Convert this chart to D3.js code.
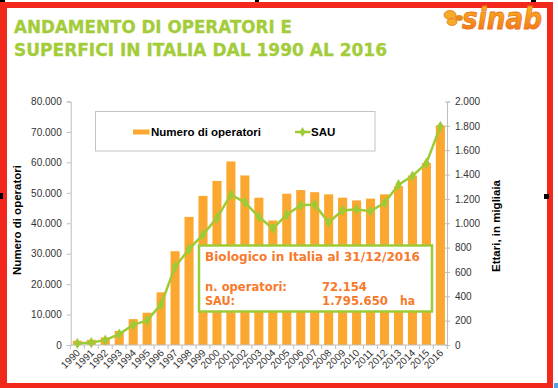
<!DOCTYPE html>
<html><head><meta charset="utf-8">
<script src="https://cdn.jsdelivr.net/npm/d3@7"></script>
<style>
html,body{margin:0;padding:0;background:#fff;}
svg{display:block;}
</style>
</head><body>
<svg id="chart" width="558" height="388"></svg>
<script>
const years = ["1990","1991","1992","1993","1994","1995","1996","1997","1998","1999","2000","2001","2002","2003","2004","2005","2006","2007","2008","2009","2010","2011","2012","2013","2014","2015","2016"];
const operatori = [1400,1700,2500,4600,8500,10600,17300,30800,42100,49000,53900,60300,55700,48400,40900,49700,50900,50200,49500,48400,47500,48100,49500,52200,55700,59800,72154];
const sau = [13,20,40,90,165,202,334,642,787,907,1044,1235,1172,1052,957,1071,1148,1153,1006,1107,1113,1098,1167,1317,1388,1494,1796];
const leftTicks = [0,10000,20000,30000,40000,50000,60000,70000,80000];
const rightTicks = [0,200,400,600,800,1000,1200,1400,1600,1800,2000];
const titleLines = ["ANDAMENTO DI OPERATORI E","SUPERFICI IN ITALIA DAL 1990 AL 2016"];
const seriesNames = ["Numero di operatori","SAU"];
const axisTitles = ["Numero di operatori","Ettari, in migliaia"];
const noteLines = ["Biologico in Italia al 31/12/2016"];
const noteRows = [["n. operatori:","72.154",""],["SAU:","1.795.650","ha"]];

const svg = d3.select("#chart");
const BAR = "#fca72f", LINE = "#9dcb35", NOTE = "#f77a2c", TITLE = "#a3cc39", RED = "#f3281c";
const it = d3.formatLocale({thousands:".",grouping:[3],decimal:",",currency:["",""]});
const fmt = it.format(",");

svg.append("rect").attr("width",558).attr("height",388).attr("fill","#fff");

const x = d3.scaleBand().domain(years).range([70.7,447]).paddingInner(0.35).paddingOuter(0.15);
const yL = d3.scaleLinear().domain([0,80000]).range([345,101.5]);
const yR = d3.scaleLinear().domain([0,2000]).range([345,101.5]);

// title
const tl = svg.append("g").attr("font-family","DejaVu Sans, Verdana, sans-serif").attr("font-weight","bold")
  .attr("font-size",17.5).attr("fill",TITLE).attr("stroke",TITLE).attr("stroke-width",0.3);
tl.append("text").attr("x",14).attr("y",33.3).attr("textLength",278).attr("lengthAdjust","spacingAndGlyphs").text(titleLines[0]);
tl.append("text").attr("x",14).attr("y",56).attr("textLength",373).attr("lengthAdjust","spacingAndGlyphs").text(titleLines[1]);

// bars
svg.append("g").selectAll("rect").data(years).join("rect")
  .attr("x",d=>x(d)).attr("width",x.bandwidth())
  .attr("y",(d,i)=>yL(operatori[i])).attr("height",(d,i)=>yL(0)-yL(operatori[i]))
  .attr("fill",BAR);

// left axis
const gL = svg.append("g").attr("transform","translate(70.7,0)")
  .call(d3.axisLeft(yL).tickValues(leftTicks).tickFormat(fmt).tickSizeOuter(0).tickSize(4).tickPadding(5));
gL.select(".domain").attr("stroke","#bdbdbd");
gL.selectAll(".tick line").attr("stroke","#bdbdbd");
gL.selectAll("text").attr("font-family","Liberation Sans, Arial, sans-serif").attr("font-size",10).attr("fill","#333");

// right axis
const gR = svg.append("g").attr("transform","translate(447,0)")
  .call(d3.axisRight(yR).tickValues(rightTicks).tickFormat(fmt).tickSizeOuter(0).tickSize(3).tickPadding(5));
gR.select(".domain").attr("stroke","#bdbdbd");
gR.selectAll(".tick line").attr("stroke","#bdbdbd").attr("x1",-2);
gR.selectAll("text").attr("font-family","Liberation Sans, Arial, sans-serif").attr("font-size",10).attr("fill","#333");

// x axis
const gx = svg.append("g");
gx.append("line").attr("x1",70.7).attr("x2",447).attr("y1",345).attr("y2",345).attr("stroke","#bdbdbd");
const gap = (x.step()-x.bandwidth())/2;
const bounds = years.map(d=>x(d)-gap).concat([x(years[years.length-1])+x.bandwidth()+gap]);
gx.selectAll("line.tk").data(bounds).join("line").attr("class","tk")
  .attr("x1",d=>d).attr("x2",d=>d).attr("y1",345).attr("y2",349).attr("stroke","#bdbdbd");
gx.selectAll("text").data(years).join("text")
  .attr("transform",d=>`translate(${x(d)+x.bandwidth()/2+1},351) rotate(-45)`)
  .attr("text-anchor","end").attr("dy","0.35em")
  .attr("font-family","Liberation Sans, Arial, sans-serif").attr("font-size",10).attr("fill","#333")
  .text(d=>d);

// line
const cx = d=>x(d)+x.bandwidth()/2;
svg.append("path").datum(years)
  .attr("d",d3.line().x(cx).y((d,i)=>yR(sau[i])))
  .attr("fill","none").attr("stroke",LINE).attr("stroke-width",2.5);
svg.append("g").selectAll("path").data(years).join("path")
  .attr("transform",(d,i)=>`translate(${cx(d)},${yR(sau[i])})`)
  .attr("d",d3.symbol(d3.symbolDiamond,36)).attr("fill",LINE);

// axis titles
const af = "Liberation Sans, Arial, sans-serif";
svg.append("text").attr("transform","translate(21,220) rotate(-90)").attr("text-anchor","middle")
  .attr("font-family",af).attr("font-weight","bold").attr("font-size",11.5).attr("fill","#000").text(axisTitles[0]);
svg.append("text").attr("transform","translate(500,226) rotate(-90)").attr("text-anchor","middle")
  .attr("font-family",af).attr("font-weight","bold").attr("font-size",11.5).attr("fill","#000").text(axisTitles[1]);

// legend
const lg = svg.append("g");
lg.append("rect").attr("x",95.5).attr("y",111.5).attr("width",279.5).attr("height",39.5)
  .attr("fill","#fff").attr("stroke","#c4c4c4").attr("stroke-width",1);
lg.append("rect").attr("x",133).attr("y",129.5).attr("width",16.5).attr("height",5).attr("fill",BAR);
lg.append("text").attr("x",151).attr("y",135.5).attr("font-family",af).attr("font-weight","bold")
  .attr("font-size",11.5).attr("fill","#000").text(seriesNames[0]);
lg.append("line").attr("x1",295).attr("x2",310.5).attr("y1",132).attr("y2",132).attr("stroke",LINE).attr("stroke-width",2.5);
lg.append("path").attr("transform","translate(302.5,132)").attr("d",d3.symbol(d3.symbolDiamond,30)).attr("fill",LINE);
lg.append("text").attr("x",311).attr("y",135.5).attr("font-family",af).attr("font-weight","bold")
  .attr("font-size",11.5).attr("fill","#000").text(seriesNames[1]);

// annotation box
const nb = svg.append("g").attr("font-family","DejaVu Sans, Verdana, sans-serif").attr("font-weight","bold")
  .attr("font-size",11.5).attr("fill",NOTE);
nb.append("rect").attr("x",199).attr("y",245.5).attr("width",233).attr("height",66)
  .attr("fill","#fff").attr("stroke",LINE).attr("stroke-width",2.5);
nb.append("text").attr("x",205).attr("y",261).attr("textLength",215).attr("lengthAdjust","spacingAndGlyphs").text(noteLines[0]);
nb.append("text").attr("x",205).attr("y",291).attr("textLength",82).attr("lengthAdjust","spacingAndGlyphs").text(noteRows[0][0]);
nb.append("text").attr("x",322).attr("y",291).attr("textLength",45).attr("lengthAdjust","spacingAndGlyphs").text(noteRows[0][1]);
nb.append("text").attr("x",205).attr("y",305).attr("textLength",30).attr("lengthAdjust","spacingAndGlyphs").text(noteRows[1][0]);
nb.append("text").attr("x",322).attr("y",305).attr("textLength",66).attr("lengthAdjust","spacingAndGlyphs").text(noteRows[1][1]);
nb.append("text").attr("x",400).attr("y",305).attr("textLength",15).attr("lengthAdjust","spacingAndGlyphs").text(noteRows[1][2]);

// red frame
const fr = svg.append("g").attr("fill",RED);
fr.append("rect").attr("x",0).attr("y",2).attr("width",7).attr("height",386);
fr.append("rect").attr("x",0).attr("y",2).attr("width",553).attr("height",6);
fr.append("rect").attr("x",547).attr("y",2).attr("width",6).attr("height",386);
fr.append("rect").attr("x",0).attr("y",383).attr("width",553).attr("height",5);

// handles
const hd = svg.append("g").attr("fill","#000");
[[0,0,5,2],[255,0,4,2],[531,0,5,2],[0,193,3,6],[544,194,5,5]].forEach(r=>
  hd.append("rect").attr("x",r[0]).attr("y",r[1]).attr("width",r[2]).attr("height",r[3]));
svg.append("rect").attr("x",554).attr("y",383).attr("width",4).attr("height",5).attr("fill","#5aa0e6");

// logo
const defs = svg.append("defs");
const gr = defs.append("linearGradient").attr("id","lg").attr("x1",0).attr("y1",0).attr("x2",0).attr("y2",1);
gr.append("stop").attr("offset","0").attr("stop-color","#ffc21a");
gr.append("stop").attr("offset","1").attr("stop-color","#f06a1c");
const logo = svg.append("g");
logo.append("ellipse").attr("cx",450).attr("cy",15).attr("rx",6).attr("ry",4.5).attr("fill","#f7a928").attr("stroke","#e07a20").attr("stroke-width",0.8);
logo.append("ellipse").attr("cx",452).attr("cy",22).attr("rx",5).attr("ry",3.5).attr("fill","#f7a928").attr("stroke","#e07a20").attr("stroke-width",0.8);
logo.append("ellipse").attr("cx",459).attr("cy",18).attr("rx",4).attr("ry",3).attr("fill","#e58a1f");
logo.append("text").attr("x",462).attr("y",29).attr("font-family","DejaVu Sans, sans-serif").attr("font-weight","bold")
  .attr("font-style","italic").attr("font-size",30).attr("fill","url(#lg)").attr("stroke","#e8731c").attr("stroke-width",0.8)
  .attr("textLength",80).attr("lengthAdjust","spacingAndGlyphs").text("sinab");
</script>
</body></html>
